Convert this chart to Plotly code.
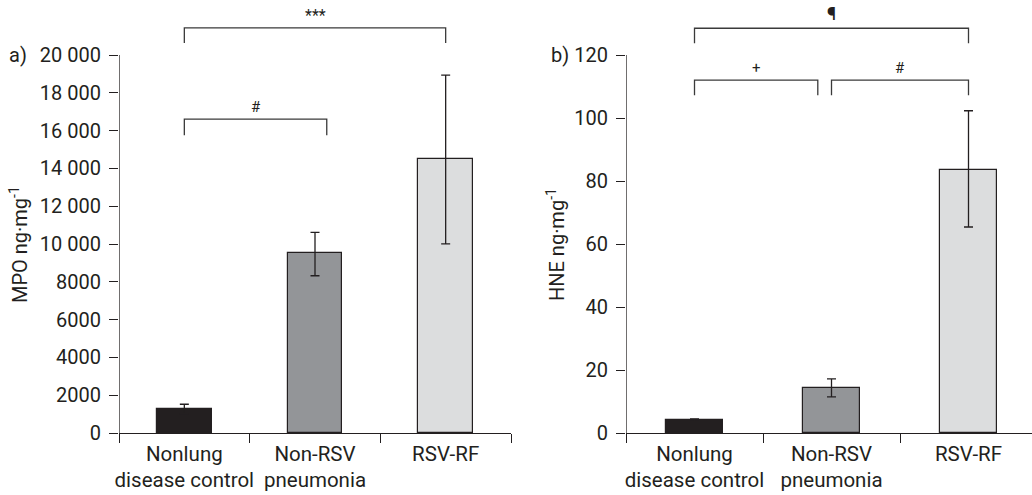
import plotly.graph_objects as go

# ---------------- data ----------------
categories = ["Nonlung<br>disease control", "Non-RSV<br>pneumonia", "RSV-RF"]
bar_colors = ["#231f20", "#939598", "#dcddde"]

mpo_values = [1270, 9500, 14480]
mpo_err_plus = [250, 1120, 4460]
mpo_err_minus = [250, 1180, 4470]

hne_values = [4.1, 14.2, 83.6]
hne_err_plus = [0.4, 3.0, 18.7]
hne_err_minus = [0.4, 2.7, 18.2]

mpo_ticks = [0, 2000, 4000, 6000, 8000, 10000, 12000, 14000, 16000, 18000, 20000]
mpo_ticktext = ["0", "2000", "4000", "6000", "8000", "10 000", "12 000",
                "14 000", "16 000", "18 000", "20 000"]
hne_ticks = [0, 20, 40, 60, 80, 100, 120]

# significance brackets: (x_start, x_end, level, leg, label, label size)
mpo_brackets = [(0, 2, 21430, 790, "***", 16), (0, 1.09, 16610, 850, "#", 15)]
hne_brackets = [(0, 2, 128.5, 4.8, "¶", 19), (0, 0.9, 112.0, 4.8, "+", 15),
                (1.0, 2, 112.0, 4.8, "#", 15)]

FONT = "Roboto"
INK = "#231f20"
LINE = "#3a3a3a"

fig = go.Figure()


def add_panel(xa, ya, values, ep, em, ymax_axis, brackets):
    xs = list(range(len(categories)))
    fig.add_trace(go.Bar(
        x=xs, y=values, width=0.42,
        marker=dict(color=bar_colors, line=dict(color=INK, width=1.2)),
        error_y=dict(type="data", symmetric=False, array=ep, arrayminus=em,
                     color=INK, thickness=1.3, width=4.5),
        xaxis=xa, yaxis=ya, showlegend=False, hoverinfo="skip"))
    # y-axis line limited to the top tick
    fig.add_trace(go.Scatter(
        x=[-0.5, -0.5], y=[0, ymax_axis], mode="lines",
        line=dict(color=INK, width=1.3), xaxis=xa, yaxis=ya,
        showlegend=False, hoverinfo="skip"))
    for (x0, x1, lvl, leg, lab, sz) in brackets:
        fig.add_trace(go.Scatter(
            x=[x0, x0, x1, x1], y=[lvl - leg, lvl, lvl, lvl - leg], mode="lines",
            line=dict(color=LINE, width=1.3), xaxis=xa, yaxis=ya,
            showlegend=False, hoverinfo="skip"))
        fig.add_annotation(
            x=(x0 + x1) / 2, y=lvl, xref=xa, yref=ya, text=lab, showarrow=False,
            xanchor="center", yanchor="bottom", yshift=1,
            font=dict(family=FONT, size=sz, color=INK))


add_panel("x", "y", mpo_values, mpo_err_plus, mpo_err_minus, 20000, mpo_brackets)
add_panel("x2", "y2", hne_values, hne_err_plus, hne_err_minus, 120, hne_brackets)

tick_font = dict(family=FONT, size=20, color=INK)
cat_font = dict(family=FONT, size=20.5, color=INK)

xcommon = dict(
    tickmode="array", tickvals=[0, 1, 2], ticktext=categories, ticks="",
    showline=True, linecolor=INK, linewidth=1.3, showgrid=False, zeroline=False,
    tickfont=cat_font, ticklabelstandoff=2, automargin=False,
    minor=dict(tickmode="array", tickvals=[-0.5, 0.5, 1.5, 2.5], ticks="outside",
               ticklen=9, tickcolor=INK, tickwidth=1.3, showgrid=False),
)
ycommon = dict(
    showline=False, showgrid=False, zeroline=False, ticks="outside", ticklen=9,
    tickcolor=INK, tickwidth=1.3, tickfont=tick_font, ticklabelstandoff=4,
    automargin=False,
)

fig.update_layout(
    width=1032, height=495,
    margin=dict(l=0, r=0, t=0, b=0, pad=0, autoexpand=False),
    paper_bgcolor="white", plot_bgcolor="white",
    bargap=0,
    xaxis=dict(domain=[119 / 1032, 511 / 1032], range=[-0.5, 2.5], anchor="y", **xcommon),
    yaxis=dict(domain=[1 - 433 / 495, 1], range=[0, 20000 + 55 * 20000 / 378], anchor="x",
               tickmode="array", tickvals=mpo_ticks, ticktext=mpo_ticktext, **ycommon),
    xaxis2=dict(domain=[626 / 1032, 1], range=[-0.5, 2.5 - 5 / 137], anchor="y2", **xcommon),
    yaxis2=dict(domain=[1 - 433 / 495, 1], range=[0, 120 + 55 * 120 / 378], anchor="x2",
                tickmode="array", tickvals=hne_ticks, **ycommon),
)

# panel letters
fig.add_annotation(x=18 / 1032, y=1 - 55 / 495, xref="paper", yref="paper", text="a)",
                   xanchor="center", yanchor="middle", showarrow=False, font=tick_font)
fig.add_annotation(x=560 / 1032, y=1 - 55 / 495, xref="paper", yref="paper", text="b)",
                   xanchor="center", yanchor="middle", showarrow=False, font=tick_font)
# axis titles
fig.add_annotation(x=19 / 1032, y=1 - 245 / 495, xref="paper", yref="paper",
                   text="MPO ng·mg<sup>-1</sup>", textangle=-90, showarrow=False,
                   xanchor="center", yanchor="middle", font=tick_font)
fig.add_annotation(x=556 / 1032, y=1 - 245 / 495, xref="paper", yref="paper",
                   text="HNE ng·mg<sup>-1</sup>", textangle=-90, showarrow=False,
                   xanchor="center", yanchor="middle", font=tick_font)

fig.write_html("out.html",
               config={"displayModeBar": False},
               post_script="document.body.style.margin='0px';"
                           "document.body.style.overflow='hidden';")
